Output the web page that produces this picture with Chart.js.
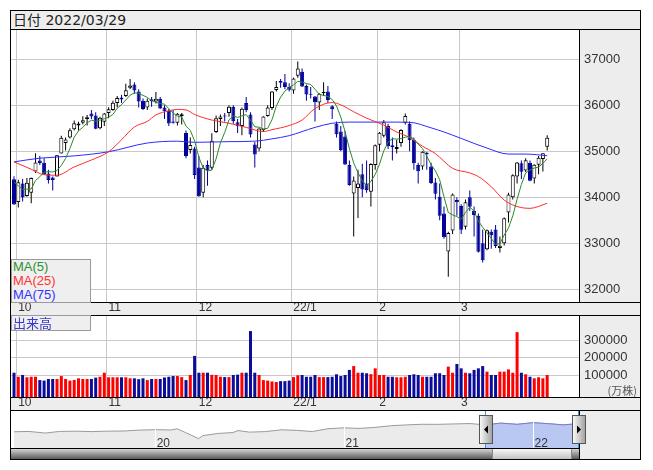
<!DOCTYPE html>
<html>
<head>
<meta charset="utf-8">
<title>日付 2022/03/29</title>
<script src="https://cdn.jsdelivr.net/npm/chart.js@4.4.1/dist/chart.umd.min.js"></script>
<style>
  html, body { margin: 0; padding: 0; background: #fff; }
  #wrap { position: relative; width: 653px; height: 470px; overflow: hidden;
          font-family: "Liberation Sans", Arial, sans-serif; color: #333; }
  #wrap div, #wrap canvas { position: absolute; box-sizing: border-box; }
  .panel { background: #ededed; }
  .line { background: #000; z-index: 5; }
  canvas { z-index: 2; }
  .box { background: #efefef; border: 1px solid #9a9a9a; z-index: 6; font-size: 13px; line-height: 14px; padding-left: 1px; }
</style>
</head>
<body>
<div id="wrap">
  <!-- panel backgrounds -->
  <div class="panel" style="left:11px;top:11px;width:629px;height:18px;"></div>
  <div class="panel" style="left:580px;top:30px;width:60px;height:272px;"></div>
  <div class="panel" style="left:11px;top:303px;width:629px;height:12px;"></div>
  <div class="panel" style="left:580px;top:316px;width:60px;height:81px;"></div>
  <div class="panel" style="left:11px;top:398px;width:629px;height:12px;"></div>
  <div class="panel" style="left:580px;top:411px;width:60px;height:48px;"></div>

  <div style="left:13px;top:11px;height:18px;line-height:18px;font-size:14px;color:#222;z-index:6;font-family:'DejaVu Sans','Noto Sans CJK JP',sans-serif;">日付 2022/03/29</div>

  <canvas id="price" width="629" height="285" style="left:11px;top:30px;"></canvas>
  <canvas id="volume" width="629" height="94" style="left:11px;top:316px;"></canvas>
  <canvas id="nav" width="629" height="38" style="left:11px;top:410px;"></canvas>

  <!-- separators -->
  <div class="line" style="left:11px;top:29px;width:629px;height:1px;"></div>
  <div class="line" style="left:11px;top:302px;width:629px;height:1px;"></div>
  <div class="line" style="left:11px;top:315px;width:629px;height:1px;"></div>
  <div class="line" style="left:11px;top:397px;width:629px;height:1px;"></div>
  <div class="line" style="left:11px;top:410px;width:629px;height:1px;"></div>
  <div class="line" style="left:11px;top:448px;width:568px;height:1px;"></div>
  <div class="line" style="left:579px;top:30px;width:1px;height:272px;"></div>
  <div class="line" style="left:579px;top:316px;width:1px;height:81px;"></div>
  <div class="line" style="left:579px;top:411px;width:1px;height:48px;z-index:1;"></div>

  <!-- scrollbar -->
  <div style="left:11px;top:449px;width:568px;height:10px;background:linear-gradient(#d4d4d4,#5a5a5a);z-index:3;"></div>
  <div style="left:492px;top:449px;width:80px;height:10px;background:linear-gradient(#f8f8f8,#c2c2c2);border-left:1px solid #888;border-right:1px solid #888;z-index:4;"></div>

  <!-- legends -->
  <div class="box" style="left:11px;top:259px;width:80px;height:44px;">
    <span style="color:#2f8f2f">MA(5)</span><br>
    <span style="color:#ff3333">MA(25)</span><br>
    <span style="color:#3333ff">MA(75)</span>
  </div>
  <div class="box" style="left:11px;top:315px;width:80px;height:16px;color:#3a3acc;font-family:'Noto Sans CJK JP',sans-serif;line-height:14px;">出来高</div>
  <div style="left:580px;top:384px;width:57px;height:13px;text-align:right;font-size:11px;color:#555;z-index:6;font-family:'Noto Sans CJK JP',sans-serif;line-height:13px;">(万株)</div>

  <div style="left:10px;top:10px;width:631px;height:450px;border:1px solid #000;z-index:7;"></div>
</div>

<script>
const dates = [
  '2021-09-30',
  '2021-10-01','2021-10-04','2021-10-05','2021-10-06','2021-10-07','2021-10-08','2021-10-11','2021-10-12','2021-10-13','2021-10-14',
  '2021-10-15','2021-10-18','2021-10-19','2021-10-20','2021-10-21','2021-10-22','2021-10-25','2021-10-26','2021-10-27','2021-10-28','2021-10-29',
  '2021-11-01','2021-11-02','2021-11-03','2021-11-04','2021-11-05','2021-11-08','2021-11-09','2021-11-10','2021-11-11','2021-11-12',
  '2021-11-15','2021-11-16','2021-11-17','2021-11-18','2021-11-19','2021-11-22','2021-11-23','2021-11-24','2021-11-26','2021-11-29','2021-11-30',
  '2021-12-01','2021-12-02','2021-12-03','2021-12-06','2021-12-07','2021-12-08','2021-12-09','2021-12-10','2021-12-13','2021-12-14','2021-12-15',
  '2021-12-16','2021-12-17','2021-12-20','2021-12-21','2021-12-22','2021-12-23','2021-12-27','2021-12-28','2021-12-29','2021-12-30','2021-12-31',
  '2022-01-03','2022-01-04','2022-01-05','2022-01-06','2022-01-07','2022-01-10','2022-01-11','2022-01-12','2022-01-13','2022-01-14',
  '2022-01-18','2022-01-19','2022-01-20','2022-01-21','2022-01-24','2022-01-25','2022-01-26','2022-01-27','2022-01-28','2022-01-31',
  '2022-02-01','2022-02-02','2022-02-03','2022-02-04','2022-02-07','2022-02-08','2022-02-09','2022-02-10','2022-02-11','2022-02-14',
  '2022-02-15','2022-02-16','2022-02-17','2022-02-18','2022-02-22','2022-02-23','2022-02-24','2022-02-25','2022-02-28',
  '2022-03-01','2022-03-02','2022-03-03','2022-03-04','2022-03-07','2022-03-08','2022-03-09','2022-03-10','2022-03-11','2022-03-14',
  '2022-03-15','2022-03-16','2022-03-17','2022-03-18','2022-03-21','2022-03-22','2022-03-23','2022-03-24','2022-03-25','2022-03-28','2022-03-29'
];

const openP = [
  34390,33900,34300,34030,34100,34560,34800,34750,34520,34430,
  34450,34950,35180,35300,35480,35560,35620,35700,35820,35780,
  35500,35640,35830,35900,36050,36170,36200,36380,36450,36300,
  36100,35950,36130,36080,36140,35950,35880,35650,35620,35760,
  35400,35030,35060,34650,34100,34700,34640,35420,35700,35780,
  35830,35970,35630,35550,36050,35800,35150,35060,35460,35770,
  35940,36330,36530,36500,36400,36320,36640,36730,36420,36250,
  36190,36060,36260,36300,35980,35600,35430,35320,34700,34080,
  34200,34500,34300,34120,34700,35140,35340,35550,35130,35050,
  35180,35620,35600,35250,34700,34670,34970,34670,34320,34010,
  33650,32820,33280,33940,33810,33360,34000,33700,33600,33000,
  32870,33250,33300,32900,33000,33670,34000,34450,34740,34580,
  34750,34410,34710,34830,35100
];
const highP = [
  34460,34384,34400,34420,34430,34960,34900,34850,34600,34450,
  34920,35340,35300,35500,35670,35640,35760,35790,35900,35850,
  35750,35830,35960,36100,36200,36230,36470,36570,36500,36350,
  36150,36150,36180,36290,36180,36000,35920,35900,35830,35830,
  35450,35300,35100,34900,34700,34800,35390,35780,35800,35830,
  36000,36000,35700,35950,36180,35850,35200,35500,35760,36000,
  36310,36530,36570,36680,36480,36600,36950,36800,36450,36400,
  36200,36260,36500,36420,36000,35650,35550,35440,34800,34450,
  34600,34730,34800,34740,35150,35420,35680,35600,35300,35250,
  35480,35820,35650,35300,34750,35000,34990,34750,34420,34300,
  33800,33250,34080,34000,33850,33950,34150,33800,33650,33300,
  33300,33300,33400,33150,33560,34100,34500,34770,34800,34850,
  34800,34720,34900,34960,35350
];
const lowP = [
  33840,33780,33910,34010,33870,34530,34700,34490,34300,34150,
  34450,34950,35020,35280,35450,35450,35580,35560,35700,35480,
  35480,35550,35720,35880,35950,36050,36180,36350,36250,35950,
  35900,35900,35970,36040,35920,35700,35550,35600,35560,35580,
  34850,34950,34400,34010,34000,34250,34600,35400,35550,35650,
  35750,35600,35400,35350,35850,35300,34650,35000,35420,35750,
  35900,36300,36380,36350,36300,36250,36600,36400,36100,36150,
  35650,35900,36200,36050,35700,35300,35000,34700,34250,33150,
  33550,34000,34100,33800,34600,35000,35300,35050,34800,34950,
  35100,35580,35000,34600,34300,34600,34600,34290,33950,33500,
  33100,32272,33200,33600,33200,33300,33700,33150,32800,32580,
  32850,32880,32900,32800,32950,33450,33950,34300,34400,34550,
  34350,34300,34500,34560,35020
];
const closeP = [
  33844,34326,34003,34315,34417,34755,34746,34496,34378,34378,
  34913,35295,35259,35457,35609,35603,35677,35741,35757,35491,
  35730,35820,35914,36053,36158,36124,36328,36432,36320,36080,
  35921,36100,36087,36142,35931,35871,35602,35619,35814,35804,
  34899,35136,34484,34022,34640,34580,35227,35719,35755,35755,
  35971,35651,35544,35927,35898,35365,34932,35493,35754,35951,
  36302,36398,36489,36398,36338,36585,36800,36407,36236,36232,
  36069,36252,36290,36114,35912,35368,35029,34715,34265,34364,
  34298,34168,34161,34725,35132,35405,35629,35111,35090,35091,
  35463,35768,35242,34738,34566,34989,34934,34312,34079,33597,
  33132,33224,34059,33893,33295,33891,33795,33615,32817,32633,
  33286,33174,32944,32945,33544,34063,34481,34755,34553,34807,
  34358,34708,34861,34956,35294
];
const volume = [
  113000,90000,100000,87000,90000,90000,71000,68000,77000,77000,
  77000,94000,77000,68000,72000,81000,77000,77000,77000,85000,
  90000,113000,87000,87000,87000,87000,87000,81000,81000,76000,
  81000,71000,77000,77000,77000,86000,90000,94000,94000,88000,
  71000,100000,209000,113000,113000,113000,101000,100000,90000,88000,
  88000,100000,102000,113000,113000,351000,113000,100000,71000,68000,
  63000,60000,65000,65000,68000,88000,98000,100000,90000,90000,
  100000,88000,88000,88000,90000,104000,94000,100000,129000,151000,
  113000,113000,110000,105000,138000,100000,100000,90000,90000,87000,
  87000,90000,100000,104000,100000,90000,90000,90000,110000,110000,
  100000,148000,113000,163000,138000,113000,110000,129000,138000,151000,
  119000,100000,100000,119000,119000,132000,113000,345000,113000,104000,
  90000,81000,87000,81000,100000
];

const ma5 = [
  34330,34250,34172,34176,34181,34363,34447,34546,34558,34551,
  34582,34692,34845,35060,35307,35445,35521,35617,35677,35654,
  35679,35708,35742,35802,35935,36014,36115,36219,36272,36257,
  36216,36171,36102,36066,36036,36026,35927,35833,35767,35742,
  35548,35454,35227,34869,34636,34572,34591,34838,35184,35407,
  35685,35770,35735,35770,35798,35677,35533,35523,35488,35499,
  35686,35980,36179,36308,36385,36442,36522,36506,36473,36452,
  36349,36239,36216,36191,36127,35987,35743,35428,35058,34748,
  34534,34362,34251,34343,34497,34718,35010,35200,35273,35265,
  35277,35305,35331,35260,35155,35061,34894,34708,34576,34382,
  34011,33669,33618,33581,33521,33672,33787,33698,33483,33350,
  33229,33105,32971,32996,33179,33334,33595,33958,34279,34532,
  34591,34636,34657,34738,34835
];
const ma25Idx = [0,4,7,10,14,18,22,25,28,31,33,36,38,40,42,46,50,54,58,60,64,67,70,74,76,79,82,86,89,92,95,98,102,106,108,111,114,117,120,124];
const ma25 = [34770,34610,34490,34480,34660,34810,34990,35250,35530,35650,35790,35880,35910,35900,35800,35680,35610,35520,35430,35470,
  35560,35680,35930,36060,36010,35860,35720,35570,35420,35300,35110,34950,34630,34530,34450,34230,33940,33800,33760,33870];
const ma75Idx = [0,6,14,22,31,38,42,50,56,60,64,70,74,78,86,92,97,100,104,110,115,119,124];
const ma75 = [34770,34850,34900,34990,35180,35220,35195,35210,35220,35270,35340,35520,35610,35635,35635,35630,35510,35420,35280,35070,34940,34940,34905];

const priceTicks = [32000, 33000, 34000, 35000, 36000, 37000];
const volTicks = [100000, 200000, 300000];
const monthLabels = ['10', '11', '12', '22/1', '2', '3'];

const navDates = ['2019-04-01','2019-04-30','2019-05-31','2019-06-28','2019-07-31','2019-08-30','2019-09-30','2019-10-31','2019-11-29','2019-12-31',
  '2020-01-31','2020-02-12','2020-02-28','2020-03-23','2020-03-31','2020-04-30','2020-05-29','2020-06-08','2020-06-30','2020-07-31',
  '2020-08-31','2020-09-30','2020-10-30','2020-11-30','2020-12-31','2021-01-29','2021-02-26','2021-03-31','2021-04-30','2021-05-28',
  '2021-06-30','2021-07-30','2021-08-31','2021-09-30','2021-10-29','2021-11-30','2021-12-31','2022-01-31','2022-02-28','2022-03-29'];
const navValues = [26258,26593,24815,26600,26864,26403,26917,27046,28051,28538,
  28256,29551,25409,18592,21917,24346,25383,27572,25813,26428,
  28430,27782,26502,29638,30606,29983,30932,32982,33875,34529,
  34503,34935,35361,33844,35820,34484,36338,35132,33893,35294];
const navYearTicks = [0, 12, 24];
const navYearLabels = ['20', '21', '22'];

// view ranges
const X_MIN = -0.7, X_MAX = 131.4;
const P_MIN = 31724, P_MAX = 37637;
const V_MIN = -25714, V_MAX = 437143;
const NAV_X_MIN = -9.19, NAV_X_MAX = 26.89;
const NAV_Y_MIN = 8200, NAV_Y_MAX = 50400;

const DOWN = '#00009a';
const GRID = '#c8c8c8';

Chart.defaults.font.family = '"Liberation Sans", Arial, sans-serif';
Chart.defaults.color = '#333';
Chart.defaults.plugins.legend.display = false;
Chart.defaults.plugins.tooltip.enabled = false;

const candleUp = closeP.map((c, i) => c >= openP[i]);

const monthTicks = [];
dates.forEach((d, i) => {
  if (i > 0 && d.slice(5, 7) !== dates[i - 1].slice(5, 7)) monthTicks.push(i - 0.5);
});

function monthsFrom2020(d) {
  const [y, m, day] = d.split('-').map(Number);
  return (y - 2020) * 12 + (m - 1) + (day - 1) / 30.4;
}

function noPad(s) {
  s.paddingTop = 0; s.paddingBottom = 0; s.paddingLeft = 0; s.paddingRight = 0;
}

function dateAxis() {
  return {
    type: 'linear', min: X_MIN, max: X_MAX, offset: false,
    afterBuildTicks: s => { s.ticks = monthTicks.map(v => ({ value: v })); },
    afterFit: s => { s.height = 13; noPad(s); },
    grid: { color: GRID, drawTicks: false, offset: false },
    border: { display: false },
    ticks: {
      autoSkip: false, maxRotation: 0, align: 'start', labelOffset: 2, padding: -0.5,
      font: { size: 12, lineHeight: 1 },
      callback: (v, i) => monthLabels[i]
    }
  };
}

function valueAxis(min, max, list) {
  return {
    position: 'right', min, max,
    afterBuildTicks: s => { s.ticks = list.map(v => ({ value: v })); },
    afterFit: s => { s.width = 61; noPad(s); },
    grid: { color: GRID, drawTicks: false },
    border: { display: false },
    ticks: { padding: 5, font: { size: 13 }, callback: v => String(v) }
  };
}

// price chart
new Chart(document.getElementById('price'), {
  type: 'bar',
  data: {
    datasets: [
      { type: 'line', label: 'MA(5)', data: ma5.map((v, i) => ({ x: i, y: v })),
        borderColor: '#2a8a2a', borderWidth: 1, pointRadius: 0, order: 0 },
      { type: 'line', label: 'MA(25)', data: ma25Idx.map((x, k) => ({ x, y: ma25[k] })),
        borderColor: '#ff2b2b', borderWidth: 1, pointRadius: 0, cubicInterpolationMode: 'monotone', order: 0 },
      { type: 'line', label: 'MA(75)', data: ma75Idx.map((x, k) => ({ x, y: ma75[k] })),
        borderColor: '#2b2bff', borderWidth: 1, pointRadius: 0, cubicInterpolationMode: 'monotone', order: 0 },
      { label: 'body', data: openP.map((o, i) => ({ x: i, y: [o, closeP[i]] })),
        backgroundColor: candleUp.map(u => u ? '#ffffff' : DOWN),
        borderColor: candleUp.map(u => u ? '#000000' : DOWN),
        borderWidth: 1, borderSkipped: false, barThickness: 4, grouped: false, inflateAmount: 0, order: 1 },
      { label: 'wick', data: lowP.map((l, i) => ({ x: i, y: [l, highP[i]] })),
        backgroundColor: candleUp.map(u => u ? '#000000' : DOWN),
        barThickness: 1, grouped: false, inflateAmount: 0, order: 2 }
    ]
  },
  options: {
    responsive: false, animation: false, devicePixelRatio: 1,
    layout: { padding: 0 },
    scales: { x: dateAxis(), y: valueAxis(P_MIN, P_MAX, priceTicks) }
  }
});

// volume chart
new Chart(document.getElementById('volume'), {
  type: 'bar',
  data: {
    datasets: [{
      label: '出来高', data: volume.map((v, i) => ({ x: i, y: v })),
      backgroundColor: candleUp.map(u => u ? '#ff0000' : '#0c0c9a'),
      barThickness: 3, grouped: false, inflateAmount: 0, base: V_MIN
    }]
  },
  options: {
    responsive: false, animation: false, devicePixelRatio: 1,
    layout: { padding: 0 },
    scales: { x: dateAxis(), y: valueAxis(V_MIN, V_MAX, volTicks) }
  }
});

// navigator
const SEL_START = monthsFrom2020(dates[0]);
const SEL_END = monthsFrom2020(dates[dates.length - 1]);
const navPoints = navDates.map((d, k) => ({ x: monthsFrom2020(d), y: navValues[k] }));

const handlePlugin = {
  id: 'handles',
  afterDraw(chart) {
    const ctx = chart.ctx, xs = chart.scales.x, a = chart.chartArea;
    [SEL_START, SEL_END].forEach((v, k) => {
      const px = Math.round(xs.getPixelForValue(v)) - 0.5;
      ctx.save();
      ctx.strokeStyle = '#2aa0d8';
      ctx.lineWidth = 1;
      ctx.beginPath(); ctx.moveTo(px, a.top); ctx.lineTo(px, a.bottom); ctx.stroke();
      const hx = Math.round(px) - 7, hy = a.top + 5, hw = 14, hh = 29;
      const g = ctx.createLinearGradient(hx, 0, hx + hw, 0);
      g.addColorStop(0, '#ffffff'); g.addColorStop(1, '#9c9c9c');
      ctx.fillStyle = g;
      ctx.fillRect(hx, hy, hw, hh);
      ctx.strokeStyle = '#555';
      ctx.strokeRect(hx + 0.5, hy + 0.5, hw - 1, hh - 1);
      const cx = hx + hw / 2, cy = hy + hh / 2;
      ctx.fillStyle = '#000';
      ctx.beginPath();
      if (k === 0) { ctx.moveTo(cx - 2, cy); ctx.lineTo(cx + 2, cy - 4); ctx.lineTo(cx + 2, cy + 4); }
      else { ctx.moveTo(cx + 2, cy); ctx.lineTo(cx - 2, cy - 4); ctx.lineTo(cx - 2, cy + 4); }
      ctx.closePath(); ctx.fill();
      ctx.restore();
    });
  }
};

new Chart(document.getElementById('nav'), {
  type: 'line',
  data: {
    datasets: [
      { data: navPoints, borderColor: '#9a9a9a', backgroundColor: '#ebebeb', fill: 'start',
        borderWidth: 1, pointRadius: 0, order: 1 },
      { data: navPoints.filter(p => p.x >= SEL_START - 0.01), borderColor: '#7b7bd0', backgroundColor: '#b8c8f3',
        fill: 'start', borderWidth: 1, pointRadius: 0, order: 0 }
    ]
  },
  options: {
    responsive: false, animation: false, devicePixelRatio: 1,
    layout: { padding: { right: 61 } },
    scales: {
      x: {
        type: 'linear', min: NAV_X_MIN, max: NAV_X_MAX,
        afterBuildTicks: s => { s.ticks = navYearTicks.map(v => ({ value: v })); },
        afterFit: s => { s.height = 0; noPad(s); },
        grid: { color: '#ffffff', drawTicks: false, z: 1 },
        border: { display: false },
        ticks: { z: 2, mirror: true, align: 'start', labelOffset: 1, padding: -1.5, maxRotation: 0, autoSkip: false,
                 font: { size: 12, lineHeight: 1 }, callback: (v, i) => navYearLabels[i] }
      },
      y: { display: false, min: NAV_Y_MIN, max: NAV_Y_MAX }
    }
  },
  plugins: [handlePlugin]
});
</script>
</body>
</html>
